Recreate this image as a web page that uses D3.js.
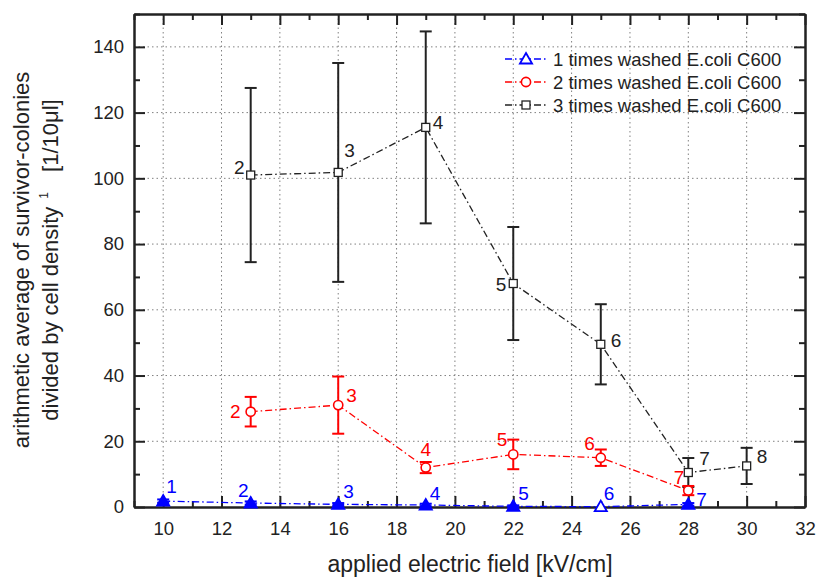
<!DOCTYPE html>
<html>
<head>
<meta charset="utf-8">
<script src="https://cdn.jsdelivr.net/npm/d3@7"></script>
<style>
  body { margin: 0; background: #fff; }
  text { font-family: "Liberation Sans", Arial, sans-serif; fill: #222; }
</style>
</head>
<body>
<div id="chart"></div>
<script>
// values
const fieldOnce = [10, 13, 16, 19, 22, 25, 28];
const meanOnce = [1.8, 1.2, 0.8, 0.6, 0.2, 0.1, 0.8];
const errOnce = [0.5, 0.5, 0.4, 0.4, 0.3, 0, 0.4];
const labelsOnce = ["1", "2", "3", "4", "5", "6", "7"];

const fieldTwice = [13, 16, 19, 22, 25, 28];
const meanTwice = [29, 31, 12, 16, 15, 5];
const errTwice = [4.5, 8.7, 1.7, 4.5, 2.5, 1.4];
const labelsTwice = ["2", "3", "4", "5", "6", "7"];

const fieldThrice = [13, 16, 19, 22, 25, 28, 30];
const meanThrice = [101, 101.8, 115.5, 68, 49.5, 10.5, 12.5];
const errThrice = [26.5, 33.3, 29.2, 17.2, 12.2, 4.4, 5.5];
const labelsThrice = ["2", "3", "4", "5", "6", "7", "8"];

const xMajor = [10, 12, 14, 16, 18, 20, 22, 24, 26, 28, 30, 32];
const xMinor = [9, 11, 13, 15, 17, 19, 21, 23, 25, 27, 29, 31];
const yMajor = [0, 20, 40, 60, 80, 100, 120, 140];
const yMinor = [10, 30, 50, 70, 90, 110, 130, 150];

const seriesNames = [
  "1 times washed E.coli C600",
  "2 times washed E.coli C600",
  "3 times washed E.coli C600"
];

// where each point number sits relative to its marker: [dx, dy, anchor]
const spotsOnce = [[3, -8, "start"], [-2, -6, "end"], [5, -6, "start"], [4, -5, "start"],
  [5, -6, "start"], [3, -7, "start"], [8, 2, "start"]];
const spotsTwice = [[-10, 6, "end"], [8, -3, "start"], [0, -12, "middle"], [-6, -8, "end"],
  [-6, -8, "end"], [-4, -7, "end"]];
const spotsThrice = [[-6, -1, "end"], [6, -15, "start"], [7, 2, "start"], [-7, 7, "end"],
  [10, 3, "start"], [11, -7, "start"], [10, -3, "start"]];

const W = 819, H = 579;
const plot = { left: 134, right: 805, top: 14, bottom: 507 };
const ink = "#222";

const x = d3.scaleLinear().domain([9, 32]).range([plot.left, plot.right]);
const y = d3.scaleLinear().domain([0, 150]).range([plot.bottom, plot.top]);

const svg = d3.select("#chart").append("svg")
  .attr("width", W).attr("height", H);

// dotted grid
const grid = svg.append("g").attr("stroke", "#808080").attr("stroke-width", 1)
  .attr("stroke-dasharray", "1.5,3");
grid.selectAll(".gx").data(xMajor.filter(d => d < 32)).enter().append("line")
  .attr("x1", d => x(d)).attr("x2", d => x(d))
  .attr("y1", plot.top).attr("y2", plot.bottom);
grid.selectAll(".gy").data(yMajor.filter(d => d > 0)).enter().append("line")
  .attr("x1", plot.left).attr("x2", plot.right)
  .attr("y1", d => y(d)).attr("y2", d => y(d));

// axes on all four sides, ticks pointing in
const styleAxis = g => {
  g.selectAll("path, line").attr("stroke", ink).attr("stroke-width", 2);
  g.selectAll("text").attr("fill", ink).style("font-size", "18.5px")
    .style("font-family", "'Liberation Sans', Arial, sans-serif");
};

svg.append("g").attr("transform", `translate(0,${plot.bottom})`)
  .call(d3.axisBottom(x).tickValues(xMajor).tickSize(-11).tickSizeOuter(0).tickPadding(15))
  .call(styleAxis);
svg.append("g").attr("transform", `translate(0,${plot.bottom})`)
  .call(d3.axisBottom(x).tickValues(xMinor).tickSize(-6).tickSizeOuter(0).tickFormat(""))
  .call(styleAxis);
svg.append("g").attr("transform", `translate(0,${plot.top})`)
  .call(d3.axisTop(x).tickValues(xMajor).tickSize(-11).tickSizeOuter(0).tickFormat(""))
  .call(styleAxis);
svg.append("g").attr("transform", `translate(0,${plot.top})`)
  .call(d3.axisTop(x).tickValues(xMinor).tickSize(-6).tickSizeOuter(0).tickFormat(""))
  .call(styleAxis);

svg.append("g").attr("transform", `translate(${plot.left},0)`)
  .call(d3.axisLeft(y).tickValues(yMajor).tickSize(-11).tickSizeOuter(0).tickPadding(10))
  .call(styleAxis);
svg.append("g").attr("transform", `translate(${plot.left},0)`)
  .call(d3.axisLeft(y).tickValues(yMinor).tickSize(-6).tickSizeOuter(0).tickFormat(""))
  .call(styleAxis);
svg.append("g").attr("transform", `translate(${plot.right},0)`)
  .call(d3.axisRight(y).tickValues(yMajor).tickSize(-11).tickSizeOuter(0).tickFormat(""))
  .call(styleAxis);
svg.append("g").attr("transform", `translate(${plot.right},0)`)
  .call(d3.axisRight(y).tickValues(yMinor).tickSize(-6).tickSizeOuter(0).tickFormat(""))
  .call(styleAxis);

// axis titles
svg.append("text")
  .attr("x", 470).attr("y", 572)
  .attr("text-anchor", "middle")
  .style("font-size", "23px")
  .text("applied electric field [kV/cm]");

const yTitle = svg.append("g").attr("transform", "translate(0,260) rotate(-90)");
yTitle.append("text")
  .attr("x", 0).attr("y", 29)
  .attr("text-anchor", "middle")
  .style("font-size", "22px")
  .text("arithmetic average of survivor-colonies");
const line2 = yTitle.append("text")
  .attr("x", 0).attr("y", 58)
  .attr("text-anchor", "middle")
  .style("font-size", "22px");
line2.append("tspan").text("divided by cell density");
line2.append("tspan").attr("dx", 8).attr("dy", -10).style("font-size", "12px").text("1");
line2.append("tspan").attr("dx", 20).attr("dy", 10).text("[1/10μl]");

// marker shapes
const tri = d3.symbol().type(d3.symbolTriangle).size(64);
const drawMarker = (g, shape, color, solid) => {
  if (shape === "tri") {
    g.append("path").attr("d", tri).attr("transform", "translate(0,1)")
      .attr("fill", solid ? color : "#fff").attr("stroke", color).attr("stroke-width", 1.8);
  } else if (shape === "circle") {
    g.append("circle").attr("r", 4.6)
      .attr("fill", "#fff").attr("stroke", color).attr("stroke-width", 1.6);
  } else {
    g.append("rect").attr("x", -4).attr("y", -4).attr("width", 8).attr("height", 8)
      .attr("fill", "#fff").attr("stroke", color).attr("stroke-width", 1.3);
  }
};

const series = [
  { xs: fieldThrice, ys: meanThrice, es: errThrice, labels: labelsThrice, spots: spotsThrice,
    color: ink, shape: "square", barsOnTop: false },
  { xs: fieldTwice, ys: meanTwice, es: errTwice, labels: labelsTwice, spots: spotsTwice,
    color: "#ff0000", shape: "circle", barsOnTop: false },
  { xs: fieldOnce, ys: meanOnce, es: errOnce, labels: labelsOnce, spots: spotsOnce,
    color: "#0000ff", shape: "tri", barsOnTop: true }
];

const line = d3.line().x(d => x(d[0])).y(d => y(d[1]));
const dash = "7,3,1.5,3";

series.forEach(s => {
  const pts = s.xs.map((v, i) => [v, s.ys[i], s.es[i]]);
  const g = svg.append("g");

  g.append("path").datum(pts).attr("d", line)
    .attr("fill", "none").attr("stroke", s.color).attr("stroke-width", 1.3)
    .attr("stroke-dasharray", dash);

  const bars = () => {
    const eb = g.append("g").attr("stroke", s.color).attr("stroke-width", 2);
    pts.filter(p => p[2] > 0).forEach(p => {
      const cx = x(p[0]);
      eb.append("line").attr("x1", cx).attr("x2", cx)
        .attr("y1", y(p[1] - p[2])).attr("y2", y(p[1] + p[2]));
      [p[1] - p[2], p[1] + p[2]].forEach(v => {
        eb.append("line").attr("x1", cx - 6).attr("x2", cx + 6)
          .attr("y1", y(v)).attr("y2", y(v));
      });
    });
  };

  if (!s.barsOnTop) bars();
  pts.forEach(p => {
    const m = g.append("g").attr("transform", `translate(${x(p[0])},${y(p[1])})`);
    // small overlapping caps make the blue triangles read as solid
    drawMarker(m, s.shape, s.color, s.barsOnTop && p[2] > 0);
  });
  if (s.barsOnTop) bars();

  pts.forEach((p, i) => {
    const sp = s.spots[i];
    g.append("text")
      .attr("x", x(p[0]) + sp[0]).attr("y", y(p[1]) + sp[1])
      .attr("text-anchor", sp[2])
      .style("font-size", "19px")
      .style("fill", s.color)
      .text(s.labels[i]);
  });
});

// legend
const legend = svg.append("g");
const legendRows = [
  { name: seriesNames[0], color: "#0000ff", shape: "tri" },
  { name: seriesNames[1], color: "#ff0000", shape: "circle" },
  { name: seriesNames[2], color: ink, shape: "square" }
];
legendRows.forEach((r, i) => {
  const ly = 59 + i * 23;
  legend.append("line").attr("x1", 505).attr("x2", 548).attr("y1", ly).attr("y2", ly)
    .attr("stroke", r.color).attr("stroke-width", 1.3).attr("stroke-dasharray", dash);
  const m = legend.append("g").attr("transform", `translate(526,${ly})`);
  drawMarker(m, r.shape, r.color, false);
  legend.append("text").attr("x", 553).attr("y", ly).attr("dy", "0.36em")
    .style("font-size", "18.5px").text(r.name);
});
</script>
</body>
</html>
